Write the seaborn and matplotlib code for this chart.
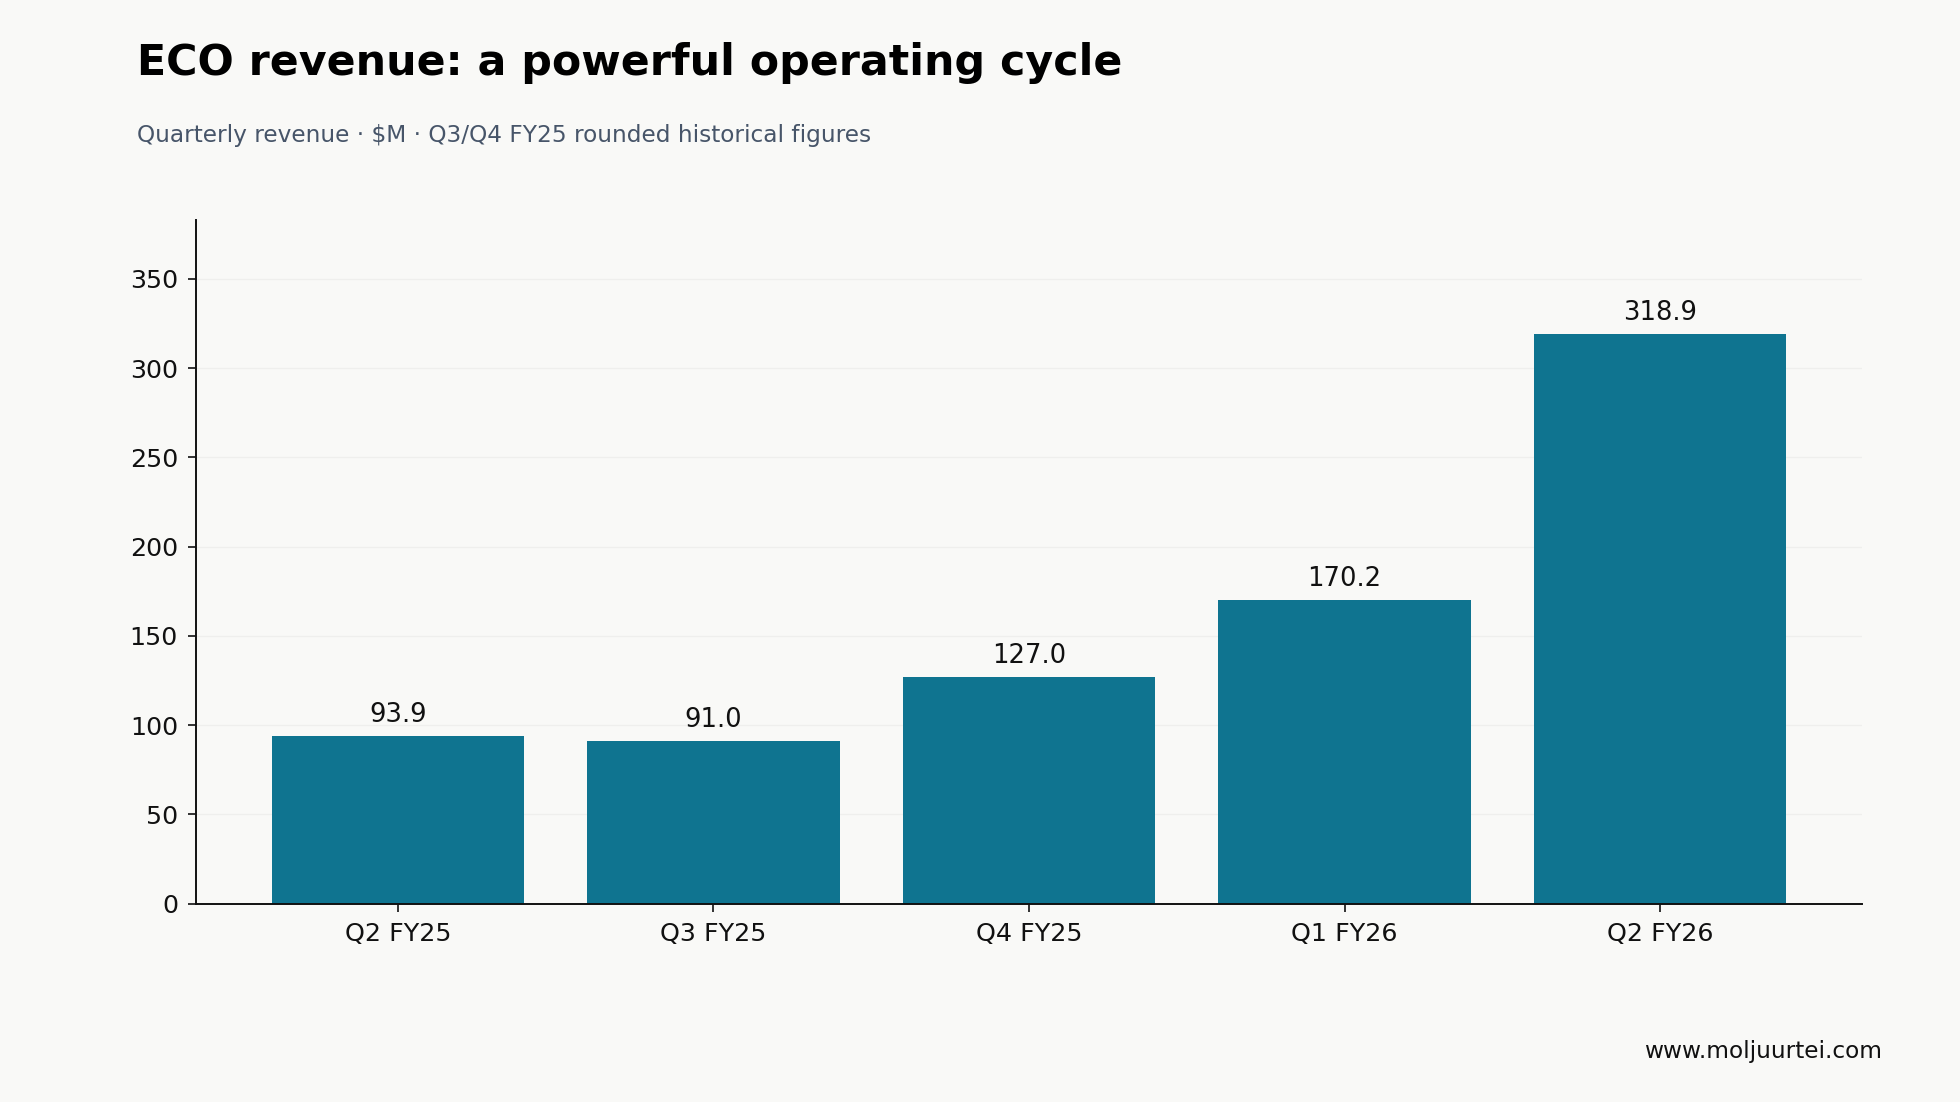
import matplotlib
matplotlib.use("Agg")
import matplotlib.pyplot as plt
import seaborn as sns
import pandas as pd

quarters = ["Q2 FY25", "Q3 FY25", "Q4 FY25", "Q1 FY26", "Q2 FY26"]
revenue = [93.9, 91.0, 127.0, 170.2, 318.9]

bg = "#f9f9f7"
bar_color = "#0f7490"

sns.set_theme(style="white")
plt.rcParams["font.family"] = ["DejaVu Sans"]

df = pd.DataFrame({"quarter": quarters, "revenue": revenue})

fig = plt.figure(figsize=(9.8, 5.51), dpi=200, facecolor=bg)
ax = fig.add_axes([0.100, 0.180, 0.850, 0.620])
ax.set_facecolor(bg)

sns.barplot(data=df, x="quarter", y="revenue", color=bar_color,
            saturation=1, width=0.8, linewidth=0, ax=ax, zorder=2)

for i, v in enumerate(revenue):
    ax.text(i, v + 4.5, f"{v:.1f}", ha="center", va="bottom", fontsize=9.3, color="#111111")

ax.set_xlim(-0.64, 4.64)
ax.set_ylim(0, max(revenue) * 1.2)
ax.set_yticks(range(0, 351, 50))
ax.yaxis.grid(True, color="#efefed", linewidth=0.5, zorder=0)
ax.set_axisbelow(True)
ax.set_xlabel("")
ax.set_ylabel("")
ax.tick_params(axis="both", labelsize=9.15, colors="#111111", length=3, width=0.6, left=True, bottom=True)
for s in ["top", "right"]:
    ax.spines[s].set_visible(False)
for s in ["left", "bottom"]:
    ax.spines[s].set_color("#111111")
    ax.spines[s].set_linewidth(0.7)

fig.text(0.070, 0.943, "ECO revenue: a powerful operating cycle", fontsize=15.4,
         fontweight="bold", color="#000000", va="center", ha="left")
fig.text(0.070, 0.877, "Quarterly revenue · $M · Q3/Q4 FY25 rounded historical figures",
         fontsize=8.4, color="#475569", va="center", ha="left")
fig.text(0.960, 0.046, "www.moljuurtei.com", fontsize=8.4, color="#111111",
         va="center", ha="right")

fig.savefig("out.png", dpi=200, facecolor=bg)
